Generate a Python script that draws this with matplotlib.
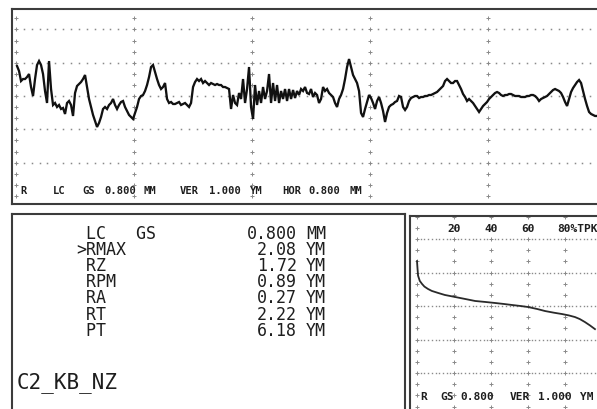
import numpy as np
import matplotlib
matplotlib.use("Agg")
import matplotlib.pyplot as plt

# ---------------- measurement data ----------------
# Roughness profile: sampled heights (um) along the traverse
PROFILE_START_MM = 0.007
PROFILE_STEP_MM = 0.01356
profile_um = [
    0.90, 0.75, 0.45, 0.51, 0.51, 0.57, 0.66, 0.27, 0.00, 0.51,
    0.93, 1.05, 0.93, 0.66, 0.15, -0.21, 1.05, 0.21, -0.27, -0.21,
    -0.33, -0.27, -0.39, -0.36, -0.54, -0.21, -0.15, -0.27, -0.60, 0.09,
    0.30, 0.36, 0.42, 0.51, 0.63, 0.27, -0.09, -0.33, -0.57, -0.75,
    -0.93, -0.81, -0.63, -0.39, -0.33, -0.39, -0.27, -0.21, -0.09, -0.27,
    -0.39, -0.27, -0.18, -0.15, -0.33, -0.45, -0.57, -0.63, -0.69, -0.51,
    -0.33, -0.09, 0.00, 0.03, 0.15, 0.33, 0.57, 0.87, 0.93, 0.72,
    0.51, 0.33, 0.21, 0.27, 0.39, -0.09, -0.21, -0.18, -0.24, -0.24,
    -0.21, -0.18, -0.27, -0.24, -0.21, -0.27, -0.33, -0.21, 0.27, 0.42,
    0.51, 0.45, 0.51, 0.39, 0.45, 0.39, 0.33, 0.39, 0.36, 0.33,
    0.36, 0.33, 0.33, 0.27, 0.27, 0.24, 0.21, -0.39, 0.03, -0.21,
    -0.27, 0.09, -0.09, 0.51, -0.21, 0.21, 0.87, -0.33, -0.69, 0.33,
    -0.27, 0.15, -0.21, 0.27, -0.09, 0.15, 0.66, -0.21, 0.39, -0.15,
    0.33, -0.21, 0.15, -0.09, 0.21, -0.15, 0.21, -0.09, 0.18, -0.06,
    0.15, 0.03, 0.21, 0.15, 0.27, 0.09, 0.06, 0.21, -0.03, 0.09,
    0.03, -0.21, -0.09, 0.27, 0.15, 0.21, 0.09, 0.03, -0.03, -0.21,
    -0.33, -0.09, 0.03, 0.21, 0.51, 0.87, 1.11, 0.87, 0.63, 0.51,
    0.39, 0.15, -0.51, -0.63, -0.39, -0.18, 0.03, -0.06, -0.21, -0.39,
    -0.15, -0.03, -0.21, -0.45, -0.78, -0.51, -0.33, -0.27, -0.24, -0.18,
    -0.15, 0.00, -0.03, -0.33, -0.42, -0.33, -0.15, -0.06, -0.03, 0.00,
    0.00, -0.06, -0.03, -0.03, 0.00, 0.00, 0.03, 0.03, 0.06, 0.09,
    0.12, 0.18, 0.24, 0.30, 0.45, 0.51, 0.45, 0.39, 0.39, 0.45,
    0.45, 0.33, 0.21, 0.06, -0.03, -0.15, -0.09, -0.15, -0.21, -0.30,
    -0.39, -0.48, -0.39, -0.30, -0.24, -0.18, -0.09, -0.03, 0.03, 0.09,
    0.12, 0.09, 0.03, 0.00, 0.03, 0.03, 0.06, 0.06, 0.03, 0.00,
    0.00, 0.00, -0.03, -0.03, -0.03, 0.00, 0.00, 0.03, 0.03, 0.00,
    -0.06, -0.15, -0.09, -0.06, -0.03, 0.00, 0.06, 0.12, 0.18, 0.21,
    0.18, 0.15, 0.09, -0.03, -0.18, -0.30, -0.09, 0.12, 0.24, 0.33,
    0.42, 0.48, 0.39, 0.15, -0.09, -0.30, -0.48, -0.54, -0.57, -0.60,
    -0.60,
]

# Bearing-ratio (Abbott) curve: material ratio (%) vs height (um)
bearing_pct = [0, 0.3, 0.6, 1.5, 2.7, 4.0, 5.9, 8.0, 11.4, 15.0, 20.5, 26.0,
               31.4, 37.0, 42.2, 47.0, 51.4, 56.0, 60.0, 65.0, 69.2, 74.0,
               78.4, 82.0, 85.4, 88.0, 90.8, 93.5, 96.2]
bearing_um = [1.34, 1.10, 0.90, 0.75, 0.66, 0.58, 0.51, 0.45, 0.39, 0.33, 0.27,
              0.21, 0.15, 0.12, 0.09, 0.06, 0.03, 0.00, -0.03, -0.09, -0.15,
              -0.20, -0.24, -0.28, -0.33, -0.39, -0.48, -0.58, -0.69]
bearing_ticks = [20, 40, 60]

# Parameter table
param_names = [" LC   GS", ">RMAX", " RZ", " RPM", " RA", " RT", " PT"]
param_values = ["0.800", "2.08", "1.72", "0.89", "0.27", "2.22", "6.18"]
param_units = ["MM", "YM", "YM", "YM", "YM", "YM", "YM"]
sample_name = "C2_KB_NZ"

# ---------------- figure ----------------
W, H = 597, 410
fig = plt.figure(figsize=(W / 100, H / 100), dpi=100)
fig.patch.set_facecolor("white")

FRAME = "#3c3c3c"
GRIDC = "#8a8a8a"
INK = "#1e1e1e"
MONO = "DejaVu Sans Mono"


def axes_px(left, top, right, bottom):
    return fig.add_axes([left / W, 1 - bottom / H, (right - left) / W, (bottom - top) / H])


def style_frame(ax):
    ax.set_xticks([])
    ax.set_yticks([])
    for sp in ax.spines.values():
        sp.set_color(FRAME)
        sp.set_linewidth(1.5)
    ax.set_facecolor("white")


def ftext(x, y, s, size, ha="left", va="center", **kw):
    return fig.text(x / W, 1 - y / H, s, fontsize=size, ha=ha, va=va,
                    family=MONO, color=INK, **kw)


# ---- profile panel ----
ax1 = axes_px(12, 10, 640, 205)
style_frame(ax1)
ax1.set_xlim(-4 / 147.5, 624 / 147.5)
ax1.set_ylim(-108 / 33.3, 87 / 33.3)

div_mm = 0.8
cols = np.arange(0, 5) * div_mm
row_levels = np.arange(-2, 3)
dot_x = np.arange(0, 5 * 15 + 1) * (div_mm / 15)
tick_y = np.arange(-9, 8) / 3
for r in row_levels:
    ax1.plot(dot_x, np.full_like(dot_x, r), ls="none", marker="s", ms=1.1,
             mec="none", color=GRIDC, zorder=1)
for c in cols:
    ax1.plot(np.full_like(tick_y, c), tick_y, ls="none", marker="+", ms=2.6,
             mew=0.7, color=GRIDC, zorder=1)

prof_x = PROFILE_START_MM + PROFILE_STEP_MM * np.arange(len(profile_um))
ax1.plot(prof_x, profile_um, color="#111111", lw=1.65, zorder=3,
         solid_joinstyle="miter")

top_words = [(20, "R"), (53, "LC"), (82, "GS"), (104, "0.800"), (143, "MM"),
             (180, "VER"), (209, "1.000"), (250, "YM"), (282, "HOR"),
             (308, "0.800"), (350, "MM")]
for x, s in top_words:
    ftext(x, 191, s, 7.6, weight="bold")

# ---- parameter table panel ----
ax2 = axes_px(12, 215, 405, 440)
style_frame(ax2)

fs = 12
ls = 0.865
top_y = 225
ftext(76, top_y, "\n".join(param_names), fs, va="top", linespacing=ls)
ftext(297, top_y, "\n".join(param_values), fs, ha="right", va="top",
      linespacing=ls, multialignment="right")
ftext(306, top_y, "\n".join(param_units), fs, va="top", linespacing=ls)
ftext(17, 383, sample_name, 15)

# ---- bearing curve panel ----
ax3 = axes_px(410, 217, 660, 440)
style_frame(ax3)
ax3.set_xlim(-7 / 1.85, 243 / 1.85)
ax3.set_ylim(-133 / 33.5, 90 / 33.5)

b_cols = np.arange(0, 6) * 20
b_dot_x = np.arange(0, 61) * 2.0
b_tick_y = np.arange(-9, 9) / 3
for r in row_levels:
    ax3.plot(b_dot_x, np.full_like(b_dot_x, r), ls="none", marker="s", ms=1.0,
             mec="none", color=GRIDC, zorder=1)
for c in b_cols:
    ax3.plot(np.full_like(b_tick_y, c), b_tick_y, ls="none", marker="+",
             ms=2.4, mew=0.7, color=GRIDC, zorder=1)
ax3.plot(bearing_pct, bearing_um, color="#2a2a2a", lw=1.3, zorder=3)

for t in bearing_ticks:
    px = 417 + 1.85 * t
    ftext(px, 229, f"{t}", 8.0, ha="center", weight="bold")
ftext(417 + 1.85 * 80 - 8, 229, "80%TPK", 8.0, weight="bold")

bottom_words = [(420, "R"), (440, "GS"), (460, "0.800"), (510, "VER"),
                (538, "1.000"), (580, "YM")]
for x, s in bottom_words:
    ftext(x, 397, s, 8.0, weight="bold")

fig.savefig("out.png", dpi=100, facecolor="white")
